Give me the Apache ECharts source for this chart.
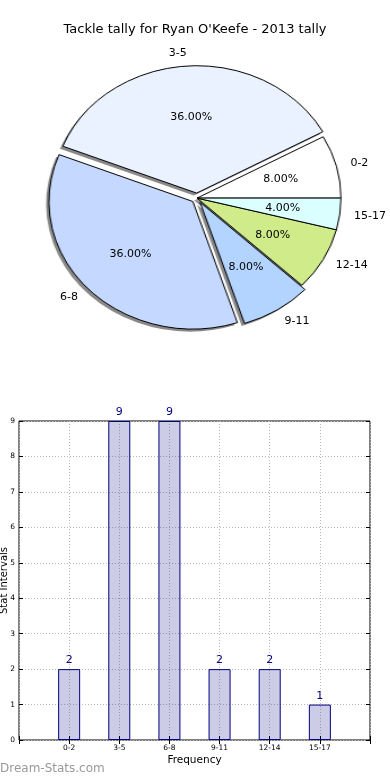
<!DOCTYPE html>
<html><head><meta charset="utf-8">
<script src="https://cdn.jsdelivr.net/npm/echarts@6/dist/echarts.min.js"></script>
<style>
html,body{margin:0;padding:0;background:#fff;overflow:hidden;width:390px;height:780px;}
#pie{position:absolute;left:0;top:0;width:390px;height:400px;z-index:1;}
#main{position:absolute;left:0;top:0;width:390px;height:780px;z-index:2;}
</style></head><body>
<div id="pie"></div><div id="main"></div>
<script>
// ---- data ----
const categories = ['0-2', '3-5', '6-8', '9-11', '12-14', '15-17'];
const frequencies = [2, 9, 9, 2, 2, 1];
const explodedCategories = ['3-5', '6-8', '9-11'];
const chartTitle = "Tackle tally for Ryan O'Keefe - 2013 tally";
const xAxisTitle = 'Frequency';
const yAxisTitle = 'Stat Intervals';
const watermark = 'Dream-Stats.com';

// ---- layout / style ----
const FONT = 'DejaVu Sans';
const PIE_CX = 197, PIE_CY = 198.1, PIE_R = 127.4, PIE_SX = 1.13, EXPLODE = 5;
const sliceColors = ['#ffffff', '#eaf1ff', '#c5d8ff', '#b3d4ff', '#d0eb8a', '#dbffff'];

function pieData(styleFn) {
  return categories.map((c, i) => ({
    name: c, value: frequencies[i],
    selected: explodedCategories.includes(c),
    itemStyle: styleFn(i)
  }));
}
const pieBase = {
  type: 'pie', startAngle: 0, clockwise: false,
  selectedMode: 'multiple', selectedOffset: EXPLODE,
  silent: true, animation: false, avoidLabelOverlap: false,
  emphasis: { disabled: true }
};

// slices (stretched horizontally to form the ellipse)
const pieEl = document.getElementById('pie');
pieEl.style.transformOrigin = PIE_CX + 'px 0';
pieEl.style.transform = 'scaleX(' + PIE_SX + ')';
const pieChart = echarts.init(pieEl, null, { renderer: 'canvas' });
pieChart.setOption({
  animation: false,
  series: [
    Object.assign({}, pieBase, {
      center: [PIE_CX - 2.5, PIE_CY + 2.5], radius: PIE_R,
      label: { show: false }, labelLine: { show: false },
      data: pieData(() => ({ color: 'rgba(40,40,40,0.55)', borderWidth: 0 }))
    }),
    Object.assign({}, pieBase, {
      center: [PIE_CX, PIE_CY], radius: PIE_R,
      label: { show: false }, labelLine: { show: false },
      data: pieData(i => ({ color: sliceColors[i], borderColor: '#000', borderWidth: 1 }))
    })
  ]
});

// labels are laid out by the pie, then stretched to the same ellipse
function stretchOuter(p) {
  const r = p.labelRect;
  const cxr = r.x + r.width / 2;
  const ax = cxr > PIE_CX ? r.x : r.x + r.width;
  return { dx: (ax - PIE_CX) * (PIE_SX - 1) };
}
function stretchInner(p) {
  const r = p.labelRect;
  const ax = r.x + r.width / 2;
  return { dx: (ax - PIE_CX) * (PIE_SX - 1) };
}

const xCats = [''].concat(categories, ['']);
const dotted = { type: [1, 2], color: '#b8b8b8', width: 1 };
const main = echarts.init(document.getElementById('main'), null, { renderer: 'canvas' });
main.setOption({
  animation: false,
  title: [
    { text: chartTitle, left: 'center', top: 23, padding: 0,
      textStyle: { fontFamily: FONT, fontSize: 13, fontWeight: 'normal', color: '#000' } },
    { text: watermark, left: 0, top: 763, padding: 0,
      textStyle: { fontFamily: FONT, fontSize: 12, fontWeight: 'normal', color: '#999999' } }
  ],
  grid: { left: 19, top: 421, width: 351, height: 319, show: true, borderColor: '#000', borderWidth: 1,
          outerBoundsMode: 'none', containLabel: false },
  xAxis: [
    { type: 'category', data: xCats, boundaryGap: false,
      axisLine: { show: false },
      axisTick: { inside: true, length: 4, interval: 0, lineStyle: { color: '#000' } },
      axisLabel: { interval: 0, fontSize: 7.5, margin: 4, color: '#000', fontFamily: FONT },
      splitLine: { show: true, interval: 0, lineStyle: dotted },
      name: xAxisTitle, nameLocation: 'middle', nameGap: 15, nameMoveOverlap: false,
      nameTextStyle: { fontFamily: FONT, fontSize: 10.5, color: '#000' } },
    { type: 'category', data: xCats, boundaryGap: false, position: 'top',
      axisLine: { show: false },
      axisTick: { inside: true, length: 4, interval: 0, lineStyle: { color: '#000' } },
      axisLabel: { show: false }, splitLine: { show: false } }
  ],
  yAxis: [
    { type: 'value', min: 0, max: 9, interval: 1,
      axisLine: { show: false },
      axisTick: { show: true, inside: true, length: 4, lineStyle: { color: '#000' } },
      axisLabel: { fontSize: 7.5, margin: 4, color: '#000', fontFamily: FONT },
      splitLine: { show: true, lineStyle: dotted },
      name: yAxisTitle, nameLocation: 'middle', nameGap: 10, nameRotate: 90, nameMoveOverlap: false,
      nameTextStyle: { fontFamily: FONT, fontSize: 10, color: '#000' } },
    { type: 'value', min: 0, max: 9, interval: 1, position: 'right',
      axisLine: { show: false },
      axisTick: { show: true, inside: true, length: 4, lineStyle: { color: '#000' } },
      axisLabel: { show: false }, splitLine: { show: false } }
  ],
  series: [
    { type: 'bar', xAxisIndex: 0, yAxisIndex: 0, barWidth: 22,
      data: categories.map((c, i) => [c, frequencies[i]]),
      itemStyle: { color: 'rgba(0,0,128,0.2)', borderColor: '#000080', borderWidth: 1 },
      label: { show: true, position: 'top', distance: 3, color: '#000080', fontSize: 11, fontFamily: FONT },
      emphasis: { disabled: true }, silent: true },
    Object.assign({}, pieBase, {
      center: [PIE_CX, PIE_CY], radius: PIE_R,
      label: { show: true, position: 'outside', formatter: '{b}', fontFamily: FONT, fontSize: 11,
               color: '#000', distanceToLabelLine: 0 },
      labelLine: { show: false, length: PIE_R * 0.1, length2: 0 },
      labelLayout: stretchOuter,
      data: pieData(() => ({ color: 'rgba(0,0,0,0)', borderWidth: 0 }))
    }),
    Object.assign({}, pieBase, {
      center: [PIE_CX, PIE_CY], radius: PIE_R * 1.2 - 6,
      label: { show: true, position: 'inside', fontFamily: FONT, fontSize: 11, color: '#000',
               formatter: p => p.percent.toFixed(2) + '%' },
      labelLine: { show: false },
      labelLayout: stretchInner,
      data: pieData(() => ({ color: 'rgba(0,0,0,0)', borderWidth: 0 }))
    })
  ]
});
</script>
</body></html>
